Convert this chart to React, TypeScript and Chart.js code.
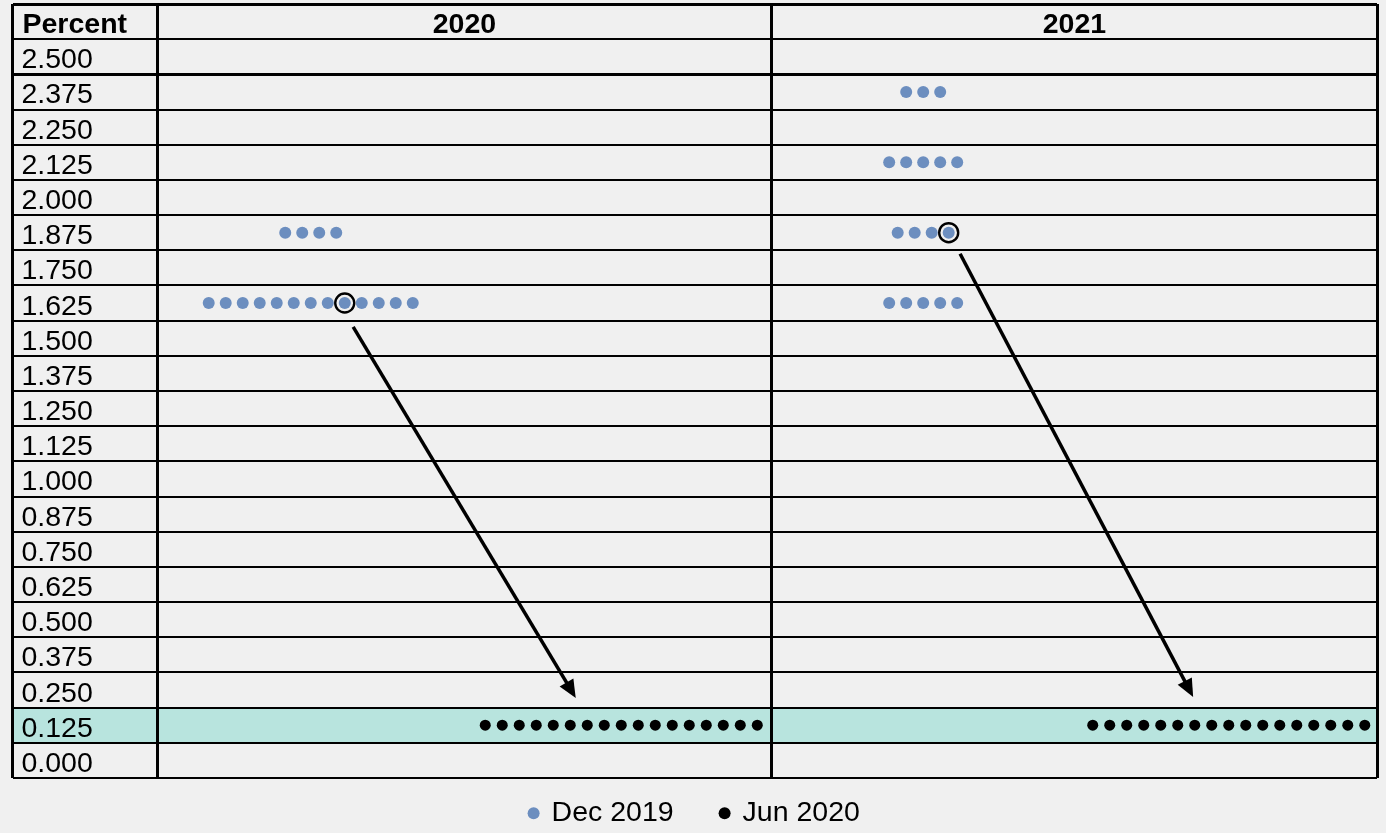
import React, { useEffect, useRef } from "react";
import { Chart, registerables } from "chart.js";

Chart.register(...registerables);

// ---------- data ----------
const headerLabel = "Percent";
const years = ["2020", "2021"];
const rateLabels = [
  "2.500", "2.375", "2.250", "2.125", "2.000", "1.875", "1.750",
  "1.625", "1.500", "1.375", "1.250", "1.125", "1.000", "0.875",
  "0.750", "0.625", "0.500", "0.375", "0.250", "0.125", "0.000",
];
const highlightedRate = 0.125;

// Dec 2019 projections: rates and number of participants per year column
const dec2019Rates = [
  [1.875, 1.625],
  [2.375, 2.125, 1.875, 1.625],
];
const dec2019Counts = [
  [4, 13],
  [3, 5, 4, 5],
];

// Jun 2020 projections
const jun2020Rates = [[0.125], [0.125]];
const jun2020Counts = [[17], [17]];

// circled (median) Dec 2019 dot: rate and slot within its row
const medianRates = [1.625, 1.875];
const medianSlots = [8, 3];

// arrow annotations (data space: x = column units, y = percent)
const arrowStarts = [
  [0.319, 1.54],
  [1.306, 1.8],
];
const arrowEnds = [
  [0.681, 0.222],
  [1.685, 0.225],
];

const legendNames = ["Dec 2019", "Jun 2020"];

// ---------- layout / style constants ----------
const ROW = 0.125;
const LABEL_COL = 0.235;
const YEAR_COLS = [
  [0, 1],
  [1, 1.984],
];
const DOT_STEP = 0.02765;
const DEC_CENTER = 0.25;
const JUN_CENTER = 0.755;
const BG = "#f0f0f0";
const BLUE = "rgb(108,142,191)";
const TEAL = "rgb(184,228,222)";
const FONT = '"Liberation Sans", Arial, sans-serif';
const FONT_SIZE = 28.5;

const rates = rateLabels.map((l) => parseFloat(l));
const maxRate = Math.max(...rates);
const minRate = Math.min(...rates);
const yMin = minRate - ROW / 2;
const yMax = maxRate + ROW * 1.5;

function colCenter(yearIdx: number, frac: number) {
  const [a, b] = YEAR_COLS[yearIdx];
  return a + (b - a) * frac;
}

function rowPoints(yearIdx: number, rate: number, count: number, frac: number) {
  const c = colCenter(yearIdx, frac);
  return Array.from({ length: count }, (_, i) => ({
    x: c + (i - (count - 1) / 2) * DOT_STEP,
    y: rate,
  }));
}

function buildPoints(rs: number[][], cs: number[][], frac: number) {
  const pts: { x: number; y: number }[] = [];
  rs.forEach((row, yi) =>
    row.forEach((r, k) => pts.push(...rowPoints(yi, r, cs[yi][k], frac)))
  );
  return pts;
}

const decPoints = buildPoints(dec2019Rates, dec2019Counts, DEC_CENTER);
const junPoints = buildPoints(jun2020Rates, jun2020Counts, JUN_CENTER);
const medianPoints = medianRates.map((r, yi) => {
  const k = dec2019Rates[yi].indexOf(r);
  const pts = rowPoints(yi, r, dec2019Counts[yi][k], DEC_CENTER);
  return pts[medianSlots[yi]];
});

const tablePlugin = {
  id: "tablePlugin",
  beforeDraw(chart: any) {
    const { ctx, chartArea, scales } = chart;
    const y = scales.y;
    ctx.save();
    ctx.fillStyle = BG;
    ctx.fillRect(0, 0, chart.width, chart.height);
    const top = y.getPixelForValue(highlightedRate + ROW / 2);
    const bot = y.getPixelForValue(highlightedRate - ROW / 2);
    ctx.fillStyle = TEAL;
    ctx.fillRect(chartArea.left, top, chartArea.right - chartArea.left, bot - top);
    ctx.restore();
  },
  afterDraw(chart: any) {
    const { ctx, chartArea, scales } = chart;
    const x = scales.x;
    const y = scales.y;
    ctx.save();
    ctx.fillStyle = "#000";
    ctx.textBaseline = "alphabetic";
    ctx.textAlign = "left";
    ctx.font = `${FONT_SIZE}px ${FONT}`;
    const labelX = x.getPixelForValue(-LABEL_COL) + 9;
    rateLabels.forEach((l, i) => {
      const py = y.getPixelForValue(rates[i]);
      ctx.fillText(l, labelX, py + 11.5);
    });
    const hy = y.getPixelForValue(maxRate + ROW) + 11.5;
    ctx.font = `bold ${FONT_SIZE}px ${FONT}`;
    ctx.fillText(headerLabel, labelX + 1, hy);
    ctx.textAlign = "center";
    years.forEach((yr, i) => {
      const [a, b] = YEAR_COLS[i];
      ctx.fillText(yr, (x.getPixelForValue(a) + x.getPixelForValue(b)) / 2, hy);
    });

    // arrows
    ctx.strokeStyle = "#000";
    ctx.fillStyle = "#000";
    ctx.lineWidth = 3.5;
    arrowStarts.forEach((s, i) => {
      const e = arrowEnds[i];
      const x1 = x.getPixelForValue(s[0]);
      const y1 = y.getPixelForValue(s[1]);
      const x2 = x.getPixelForValue(e[0]);
      const y2 = y.getPixelForValue(e[1]);
      const ang = Math.atan2(y2 - y1, x2 - x1);
      const hl = 18;
      const hw = 8;
      const bx = x2 - Math.cos(ang) * hl;
      const by = y2 - Math.sin(ang) * hl;
      ctx.beginPath();
      ctx.moveTo(x1, y1);
      ctx.lineTo(bx + Math.cos(ang) * 2, by + Math.sin(ang) * 2);
      ctx.stroke();
      ctx.beginPath();
      ctx.moveTo(x2, y2);
      ctx.lineTo(bx + Math.sin(ang) * hw, by - Math.cos(ang) * hw);
      ctx.lineTo(bx - Math.sin(ang) * hw, by + Math.cos(ang) * hw);
      ctx.closePath();
      ctx.fill();
    });

    // legend
    const items = chart.data.datasets.filter((d: any) => legendNames.includes(d.label));
    ctx.font = `${FONT_SIZE}px ${FONT}`;
    ctx.textAlign = "left";
    const r = 6;
    const dotToText = 18;
    const textToDot = 51;
    const widths = items.map((d: any) => ctx.measureText(d.label).width);
    let total = 0;
    widths.forEach((w: number, i: number) => {
      total += r + dotToText + w + (i < widths.length - 1 ? textToDot : 0);
    });
    let cx = (chartArea.left + chartArea.right) / 2 - total / 2 + r + 2;
    const ly = 821;
    items.forEach((d: any, i: number) => {
      ctx.fillStyle = d.backgroundColor;
      ctx.beginPath();
      ctx.arc(cx, ly - 7.7, r, 0, Math.PI * 2);
      ctx.fill();
      ctx.fillStyle = "#000";
      ctx.fillText(d.label, cx + dotToText, ly);
      cx += dotToText + widths[i] + textToDot;
    });
    ctx.restore();
  },
};

export default function App() {
  const canvasRef = useRef<HTMLCanvasElement | null>(null);

  useEffect(() => {
    document.body.style.margin = "0";
    document.body.style.background = BG;
    const canvas = canvasRef.current;
    if (!canvas) return;
    const yTicks = [...rates.map((r) => r - ROW / 2), maxRate + ROW / 2, yMax];
    const xTicks = [-LABEL_COL, ...YEAR_COLS.map((c) => c[0]), YEAR_COLS[YEAR_COLS.length - 1][1]];
    const chart = new Chart(canvas, {
      type: "scatter",
      data: {
        datasets: [
          {
            label: "",
            data: medianPoints,
            pointRadius: 9.5,
            pointBackgroundColor: "rgba(0,0,0,0)",
            backgroundColor: "rgba(0,0,0,0)",
            borderColor: "#000",
            pointBorderColor: "#000",
            pointBorderWidth: 2.4,
            order: 0,
          },
          {
            label: legendNames[0],
            data: decPoints,
            pointRadius: 6,
            pointBorderWidth: 0,
            backgroundColor: BLUE,
            pointBackgroundColor: BLUE,
            borderColor: BLUE,
            order: 1,
          },
          {
            label: legendNames[1],
            data: junPoints,
            pointRadius: 5.5,
            pointBorderWidth: 0,
            backgroundColor: "#000",
            pointBackgroundColor: "#000",
            borderColor: "#000",
            order: 1,
          },
        ],
      },
      options: {
        animation: false,
        responsive: false,
        events: [],
        layout: {
          autoPadding: false,
          padding: { left: 12.5, right: 9, top: 4, bottom: 55 },
        },
        plugins: {
          legend: { display: false },
          tooltip: { enabled: false },
        },
        scales: {
          x: {
            type: "linear",
            min: -LABEL_COL,
            max: YEAR_COLS[YEAR_COLS.length - 1][1],
            afterBuildTicks: (s: any) => {
              s.ticks = xTicks.map((v) => ({ value: v }));
            },
            ticks: { display: false },
            grid: { color: "#000", lineWidth: 3, drawTicks: false },
            border: { display: false },
          },
          y: {
            type: "linear",
            min: yMin,
            max: yMax,
            afterBuildTicks: (s: any) => {
              s.ticks = yTicks.map((v) => ({ value: v }));
            },
            ticks: { display: false },
            grid: {
              color: "#000",
              lineWidth: (c: any) =>
                c.index === yTicks.length - 1 || c.index === 0 ? 3 : 2,
              drawTicks: false,
            },
            border: { display: false },
          },
        },
      },
      plugins: [tablePlugin],
    });
    return () => chart.destroy();
  }, []);

  return (
    <div style={{ width: 1386, height: 833 }}>
      <canvas ref={canvasRef} width={1386} height={833} style={{ display: "block" }} />
    </div>
  );
}
